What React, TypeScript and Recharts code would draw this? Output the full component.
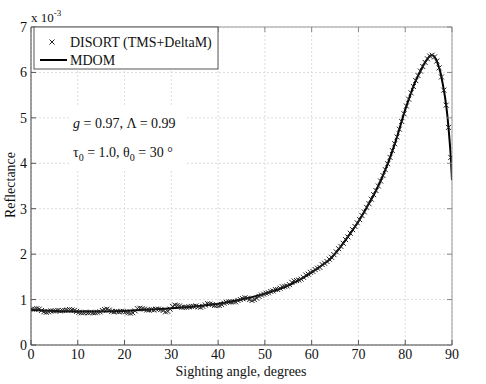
import React from "react"
import {
  ComposedChart,
  Line,
  Scatter,
  XAxis,
  YAxis,
  CartesianGrid,
} from "recharts"

// Reflectance values are in units of 1e-3 (axis label "x 10^-3")

// DISORT (TMS+DeltaM): sampled at 0.25, 0.75, ... 89.75 degrees
const disortValues = [
  0.79, 0.79, 0.8, 0.79, 0.76, 0.73, 0.72, 0.73, 0.75, 0.75,
  0.75, 0.76, 0.75, 0.76, 0.76, 0.77, 0.78, 0.77, 0.76, 0.74,
  0.72, 0.71, 0.71, 0.72, 0.71, 0.72, 0.71, 0.71, 0.72, 0.73,
  0.76, 0.78, 0.79, 0.77, 0.74, 0.73, 0.74, 0.73, 0.74, 0.74,
  0.73, 0.71, 0.7, 0.71, 0.75, 0.8, 0.81, 0.8, 0.79, 0.77,
  0.77, 0.78, 0.77, 0.79, 0.79, 0.78, 0.76, 0.73, 0.74, 0.79,
  0.85, 0.88, 0.87, 0.86, 0.83, 0.83, 0.83, 0.84, 0.85, 0.85,
  0.86, 0.84, 0.83, 0.85, 0.88, 0.91, 0.9, 0.89, 0.87, 0.87,
  0.87, 0.89, 0.92, 0.94, 0.95, 0.95, 0.95, 0.95, 0.98, 1.0,
  1.02, 1.04, 1.03, 1.0, 0.98, 1.0, 1.03, 1.07, 1.1, 1.12,
  1.14, 1.15, 1.18, 1.19, 1.22, 1.22, 1.25, 1.28, 1.29, 1.3,
  1.33, 1.38, 1.41, 1.42, 1.43, 1.45, 1.49, 1.54, 1.56, 1.6,
  1.62, 1.66, 1.69, 1.71, 1.77, 1.8, 1.84, 1.89, 1.93, 1.99,
  2.05, 2.12, 2.17, 2.24, 2.32, 2.38, 2.46, 2.54, 2.61, 2.69,
  2.76, 2.85, 2.93, 3.03, 3.11, 3.21, 3.31, 3.4, 3.5, 3.61,
  3.73, 3.86, 3.99, 4.13, 4.28, 4.43, 4.58, 4.75, 4.92, 5.09,
  5.26, 5.41, 5.55, 5.69, 5.82, 5.93, 6.03, 6.13, 6.22, 6.3,
  6.36, 6.38, 6.34, 6.25, 6.1, 5.9, 5.61, 5.28, 4.79, 4.13,
]
const disortAngles = disortValues.map((_, i) => 0.25 + i * 0.5)

// MDOM
const mdomAngles = [
  0, 5, 10, 15, 20, 25, 30, 35, 40, 45, 50, 55, 57.5, 60, 62, 64, 66, 68, 70,
  72, 74, 76, 78, 80, 81, 82, 83, 84, 85, 85.5, 86, 86.5, 87, 87.5, 88, 88.5,
  89, 89.25, 89.5, 89.75, 90,
]
const mdomValues = [
  0.77, 0.75, 0.74, 0.74, 0.75, 0.78, 0.81, 0.85, 0.91, 1.0, 1.13, 1.31, 1.44,
  1.6, 1.74, 1.9, 2.14, 2.42, 2.72, 3.07, 3.45, 3.92, 4.5, 5.18, 5.48, 5.76,
  5.98, 6.18, 6.33, 6.38, 6.37, 6.3, 6.18, 6.01, 5.76, 5.46, 5.06, 4.79, 4.48,
  4.13, 3.63,
]

const xTicks = [0, 10, 20, 30, 40, 50, 60, 70, 80, 90]
const yTicks = [0, 1, 2, 3, 4, 5, 6, 7]

const disortData = disortAngles.map((angle, i) => ({ angle, value: disortValues[i] }))
const mdomData = mdomAngles.map((angle, i) => ({ angle, value: mdomValues[i] }))

const FONT = "'Liberation Serif', 'Times New Roman', serif"
const TICK_LEN = 5

const BottomTick = ({ x, y, payload }: any) => (
  <g>
    <line x1={x} x2={x} y1={y} y2={y - TICK_LEN} stroke="#555" />
    <text x={x} y={y + 14} textAnchor="middle" fontSize={14} style={{ fontFamily: FONT }} fill="#111">
      {payload.value}
    </text>
  </g>
)

const LeftTick = ({ x, y, payload }: any) => (
  <g>
    <line x1={x} x2={x + TICK_LEN} y1={y} y2={y} stroke="#555" />
    <text x={x - 4} y={y + 5} textAnchor="end" fontSize={14} style={{ fontFamily: FONT }} fill="#111">
      {payload.value}
    </text>
  </g>
)

const TopTick = ({ x, y }: any) => (
  <line x1={x} x2={x} y1={y} y2={y + TICK_LEN} stroke="#888" />
)

const RightTick = ({ x, y }: any) => (
  <line x1={x - TICK_LEN} x2={x} y1={y} y2={y} stroke="#888" />
)

const Cross = ({ cx, cy }: any) => {
  const s = 2.5
  return (
    <path
      d={`M${cx - s},${cy - s}L${cx + s},${cy + s}M${cx - s},${cy + s}L${cx + s},${cy - s}`}
      stroke="#222"
      strokeWidth={1}
      fill="none"
    />
  )
}

export default function App() {
  return (
    <div style={{ position: "absolute", left: 0, top: 0, width: 486, height: 384, background: "#fff" }}>
      <ComposedChart
        width={486}
        height={384}
        margin={{ top: 26, right: 33, bottom: 38, left: 30 }}
      >
        <CartesianGrid stroke="#dcdcdc" strokeDasharray="2 2" />
        <XAxis
          dataKey="angle"
          type="number"
          domain={[0, 90]}
          ticks={xTicks}
          allowDataOverflow
          height={1}
          tickSize={0}
          tickMargin={0}
          tick={<BottomTick />}
          axisLine={{ stroke: "#444" }}
        />
        <XAxis
          xAxisId="top"
          orientation="top"
          dataKey="angle"
          type="number"
          domain={[0, 90]}
          ticks={xTicks}
          allowDataOverflow
          height={1}
          tickSize={0}
          tickMargin={0}
          tick={<TopTick />}
          axisLine={{ stroke: "#999" }}
        />
        <YAxis
          dataKey="value"
          type="number"
          domain={[0, 7]}
          ticks={yTicks}
          allowDataOverflow
          width={1}
          tickSize={0}
          tickMargin={0}
          tick={<LeftTick />}
          axisLine={{ stroke: "#444" }}
        />
        <YAxis
          yAxisId="right"
          orientation="right"
          dataKey="value"
          type="number"
          domain={[0, 7]}
          ticks={yTicks}
          allowDataOverflow
          width={1}
          tickSize={0}
          tickMargin={0}
          tick={<RightTick />}
          axisLine={{ stroke: "#999" }}
        />
        <Line
          data={mdomData}
          dataKey="value"
          type="monotone"
          stroke="#000"
          strokeWidth={2}
          dot={false}
          activeDot={false}
          isAnimationActive={false}
        />
        <Scatter
          data={disortData}
          dataKey="value"
          shape={<Cross />}
          isAnimationActive={false}
        />
      </ComposedChart>

      <svg
        width={486}
        height={384}
        style={{ position: "absolute", left: 0, top: 0, pointerEvents: "none", fontFamily: FONT }}
        fill="#111"
      >
        {/* exponent */}
        <text x={31} y={22} fontSize={13}>
          x 10<tspan dy={-6} fontSize={9}>-3</tspan>
        </text>

        {/* legend */}
        <rect x={34} y={27} width={184} height={42} fill="#fff" stroke="#555" strokeWidth={1} />
        <Cross cx={52} cy={42} />
        <text x={70} y={47} fontSize={14}>DISORT (TMS+DeltaM)</text>
        <line x1={40} x2={67} y1={60} y2={60} stroke="#000" strokeWidth={2} />
        <text x={70} y={65} fontSize={14}>MDOM</text>

        {/* annotation */}
        <rect x={71} y={106} width={116} height={64} fill="#fff" />
        <text x={73} y={128} fontSize={14}>
          <tspan fontStyle="italic">g</tspan> = 0.97, Λ = 0.99
        </text>
        <text x={73} y={157} fontSize={14}>
          τ<tspan dy={4} fontSize={10}>0</tspan>
          <tspan dy={-4}> = 1.0, θ</tspan>
          <tspan dy={4} fontSize={10}>0</tspan>
          <tspan dy={-4}> = 30 °</tspan>
        </text>

        {/* axis titles */}
        <text x={241} y={376} fontSize={14} textAnchor="middle">
          Sighting angle, degrees
        </text>
        <text transform="rotate(-90)" x={-185} y={15} fontSize={14} textAnchor="middle">
          Reflectance
        </text>
      </svg>
    </div>
  )
}
